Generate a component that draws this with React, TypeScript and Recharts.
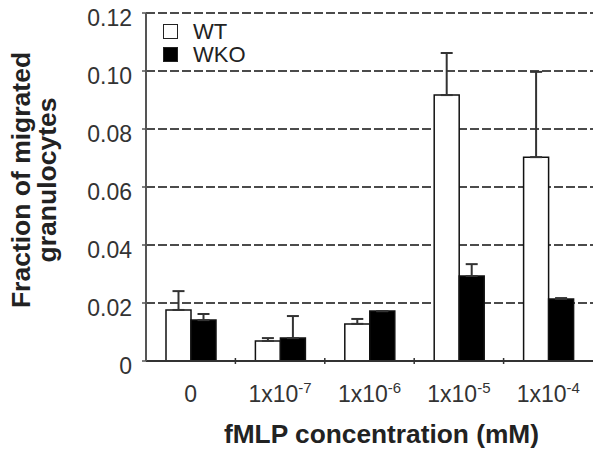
import React from 'react';
import {
  BarChart,
  Bar,
  XAxis,
  YAxis,
  CartesianGrid,
  ErrorBar,
  Legend,
  Label,
} from 'recharts';

const categories = ['0', '1x10-7', '1x10-6', '1x10-5', '1x10-4'];
const tickBase = ['0', '1x10', '1x10', '1x10', '1x10'];
const tickExp = ['', '-7', '-6', '-5', '-4'];

const wtValues = [0.0176, 0.0069, 0.0128, 0.0917, 0.0703];
const wtErrors = [0.0065, 0.001, 0.0017, 0.0145, 0.0294];
const wkoValues = [0.0141, 0.0079, 0.0172, 0.0293, 0.0214];
const wkoErrors = [0.0021, 0.0076, 0, 0.0041, 0.0003];

const yTicks = [0, 0.02, 0.04, 0.06, 0.08, 0.1, 0.12];

const data = categories.map((name, i) => ({
  name,
  wt: wtValues[i],
  wtErr: [0, wtErrors[i]],
  wko: wkoValues[i],
  wkoErr: [0, wkoErrors[i]],
}));

const FONT = '"Liberation Sans", Arial, sans-serif';

const XTick = (props: any) => {
  const { x, y, index, visibleTicksCount, width } = props;
  const count = visibleTicksCount || categories.length;
  const band = (width || 447) / count;
  const exp = tickExp[index];
  return (
    <g>
      {index < count - 1 && (
        <line x1={x + band / 2} x2={x + band / 2} y1={y - 3} y2={y + 3} stroke="#333" strokeWidth={1.5} />
      )}
      <text x={x} y={y + 41} textAnchor="middle" fontSize={23} fill="#333" fontFamily={FONT}>
        {tickBase[index]}
        {exp && (
          <tspan fontSize={15} dy={-9}>
            {exp}
          </tspan>
        )}
      </text>
    </g>
  );
};

const YTick = (props: any) => {
  const { x, y, payload } = props;
  const v = payload.value;
  return (
    <text x={x} y={y + 13} textAnchor="end" fontSize={23} fill="#333" fontFamily={FONT}>
      {v === 0 ? '0' : v.toFixed(2)}
    </text>
  );
};

const YTitle = () => {
  const cy = 180;
  return (
    <g fontFamily={FONT} fontWeight="bold" fontSize={26.5} fill="#222">
      <text x={30} y={cy} textAnchor="middle" transform={`rotate(-90, 30, ${cy})`}>
        Fraction of migrated
      </text>
      <text x={56} y={cy} textAnchor="middle" transform={`rotate(-90, 56, ${cy})`}>
        granulocytes
      </text>
    </g>
  );
};

const XTitle = (props: any) => {
  const vb = props.viewBox || { x: 146, width: 447 };
  const cx = vb.x + vb.width / 2 + 12;
  return (
    <text x={cx} y={443} textAnchor="middle" fontFamily={FONT} fontWeight="bold" fontSize={26.3} fill="#222">
      fMLP concentration (mM)
    </text>
  );
};

const legendItems = [
  { label: 'WT', fill: '#fff' },
  { label: 'WKO', fill: '#000' },
];

const renderLegend = () => (
  <div style={{ fontFamily: FONT, fontSize: 22, color: '#222' }}>
    {legendItems.map((item) => (
      <div key={item.label} style={{ display: 'flex', alignItems: 'center', height: 23 }}>
        <span
          style={{
            display: 'inline-block',
            width: 13,
            height: 13,
            background: item.fill,
            border: '1px solid #222',
            marginRight: 15,
          }}
        />
        <span>{item.label}</span>
      </div>
    ))}
  </div>
);

export default function App() {
  return (
    <div style={{ position: 'absolute', left: 0, top: 0, background: '#fff' }}>
      <BarChart
        width={594}
        height={454}
        data={data}
        margin={{ top: 13, right: 1, left: 0, bottom: 0 }}
        barGap={0}
      >
        <CartesianGrid vertical={false} stroke="#111" strokeWidth={1.3} strokeDasharray="9 3" />
        <XAxis
          dataKey="name"
          interval={0}
          height={93}
          tickSize={0}
          tickMargin={0}
          tickLine={false}
          axisLine={{ stroke: '#333', strokeWidth: 2 }}
          tick={<XTick />}
        >
          <Label content={<XTitle />} />
        </XAxis>
        <XAxis
          xAxisId="top"
          dataKey="name"
          orientation="top"
          height={0}
          tick={false}
          tickLine={false}
          axisLine={{ stroke: '#555', strokeWidth: 2 }}
        />
        <YAxis
          width={146}
          domain={[0, 0.12]}
          ticks={yTicks}
          tickSize={4}
          tickMargin={10}
          interval={0}
          axisLine={{ stroke: '#555', strokeWidth: 2 }}
          tickLine={{ stroke: '#555', strokeWidth: 1.5 }}
          tick={<YTick />}
        >
          <Label content={<YTitle />} />
        </YAxis>
        <YAxis
          yAxisId="right"
          orientation="right"
          width={0}
          domain={[0, 0.12]}
          tick={false}
          tickLine={false}
          axisLine={{ stroke: '#555', strokeWidth: 2 }}
        />
        <Legend
          layout="horizontal"
          verticalAlign="middle"
          align="center"
          content={renderLegend}
          wrapperStyle={{ position: 'absolute', left: 163, top: 20, width: 'auto' }}
        />
        <Bar dataKey="wt" fill="#fff" stroke="#111" strokeWidth={1.5} barSize={25} isAnimationActive={false}>
          <ErrorBar dataKey="wtErr" width={6} stroke="#333" strokeWidth={2} isAnimationActive={false} />
        </Bar>
        <Bar dataKey="wko" fill="#000" stroke="#111" strokeWidth={1.5} barSize={25} isAnimationActive={false}>
          <ErrorBar dataKey="wkoErr" width={6} stroke="#333" strokeWidth={2} isAnimationActive={false} />
        </Bar>
      </BarChart>
    </div>
  );
}
